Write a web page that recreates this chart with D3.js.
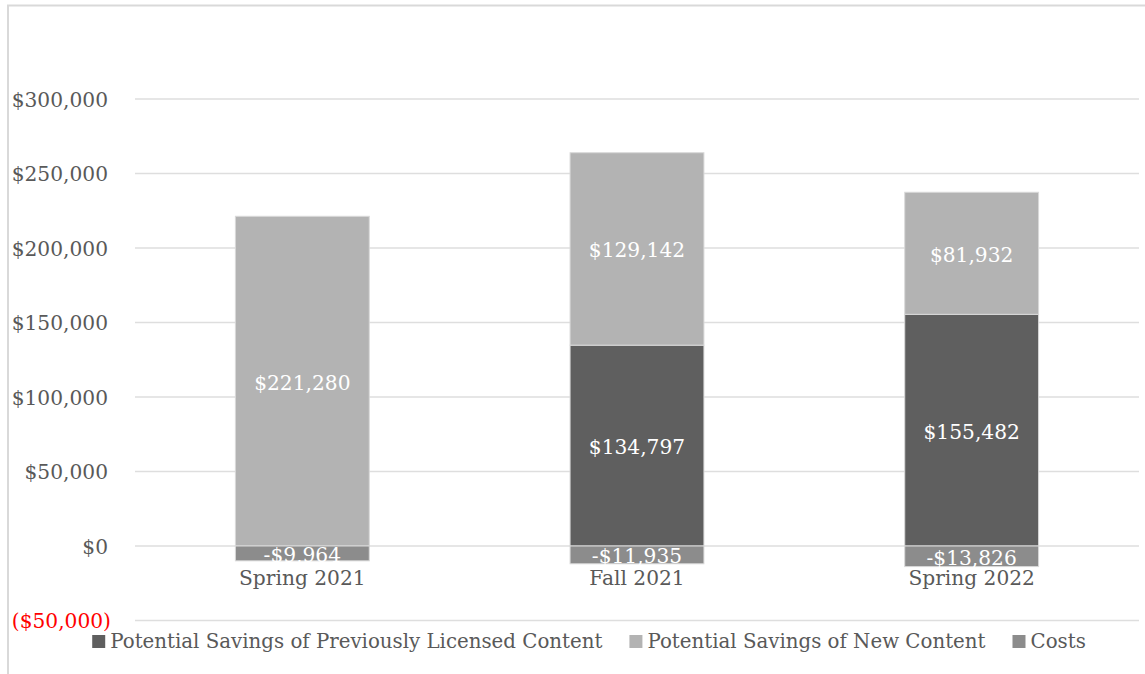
<!DOCTYPE html>
<html>
<head>
<meta charset="utf-8">
<script src="https://cdn.jsdelivr.net/npm/d3@7/dist/d3.min.js"></script>
<style>
html,body{margin:0;padding:0;background:#fff;}
svg{display:block;}
text{font-family:"DejaVu Serif", serif;}
</style>
</head>
<body>
<svg id="chart" width="1145" height="674"></svg>
<script>
const categories = ["Spring 2021", "Fall 2021", "Spring 2022"];
const seriesNames = ["Potential Savings of Previously Licensed Content", "Potential Savings of New Content", "Costs"];
const previousLicensed = [0, 134797, 155482];
const newContent = [221280, 129142, 81932];
const costs = [-9964, -11935, -13826];
const tickValues = [-50000, 0, 50000, 100000, 150000, 200000, 250000, 300000];
const tickLabels = ["($50,000)", "$0", "$50,000", "$100,000", "$150,000", "$200,000", "$250,000", "$300,000"];
const colors = ["#5f5f5f", "#b3b3b3", "#8c8c8c"];

const svg = d3.select("#chart");

// chart border
svg.append("rect").attr("x", 8).attr("y", 5.5).attr("width", 1145).attr("height", 700)
  .attr("fill", "none").attr("stroke", "#d9d9d9").attr("stroke-width", 2);

const plotLeft = 135, plotRight = 1139;
const x = d3.scaleBand().domain(categories).range([plotLeft, plotRight]).paddingInner(0.6).paddingOuter(0.3);
const y = d3.scaleLinear().domain([-50000, 300000]).range([620.5, 99]);

// gridlines
svg.append("g").selectAll("line").data(tickValues).join("line")
  .attr("x1", plotLeft).attr("x2", plotRight)
  .attr("y1", d => y(d)).attr("y2", d => y(d))
  .attr("stroke", "#dedede").attr("stroke-width", 1.5);

const fs = 20.2;
// y labels
svg.append("g").selectAll("text").data(tickValues).join("text")
  .attr("x", d => d < 0 ? 111 : 108)
  .attr("y", d => y(d) + 7.5)
  .attr("text-anchor", "end")
  .attr("font-size", fs)
  .attr("fill", d => d < 0 ? "#ff0000" : "#595959")
  .text((d, i) => tickLabels[i]);

// stacked data
const rows = categories.map((c, i) => ({cat: c, vals: [previousLicensed[i], newContent[i], costs[i]]}));
const segs = [];
rows.forEach(r => {
  let pos = 0;
  r.vals.forEach((v, s) => {
    if (v === 0) return;
    if (v > 0) { segs.push({cat: r.cat, s, v, y0: pos, y1: pos + v}); pos += v; }
    else { segs.push({cat: r.cat, s, v, y0: v, y1: 0}); }
  });
});

const bw = x.bandwidth();
svg.append("g").selectAll("rect").data(segs).join("rect")
  .attr("x", d => x(d.cat)).attr("width", bw)
  .attr("y", d => y(d.y1)).attr("height", d => y(d.y0) - y(d.y1))
  .attr("fill", d => colors[d.s])
  .attr("stroke", "#d9d9d9").attr("stroke-width", 1);

const fmt = v => (v < 0 ? "-$" : "$") + d3.format(",")(Math.abs(v));
svg.append("g").selectAll("text").data(segs).join("text")
  .attr("x", d => x(d.cat) + bw / 2)
  .attr("y", d => (y(d.y0) + y(d.y1)) / 2 + 8.5)
  .attr("text-anchor", "middle")
  .attr("font-size", fs)
  .attr("fill", "#ffffff")
  .text(d => fmt(d.v));

// category labels
svg.append("g").selectAll("text").data(categories).join("text")
  .attr("x", d => x(d) + bw / 2)
  .attr("y", 585)
  .attr("text-anchor", "middle")
  .attr("font-size", fs)
  .attr("fill", "#595959")
  .text(d => d);

// legend
const lfs = 19.8;
const lg = svg.append("g");
const items = seriesNames.map((n, i) => {
  const g = lg.append("g");
  g.append("rect").attr("x", 0).attr("y", -13).attr("width", 13).attr("height", 13).attr("fill", colors[i]);
  const t = g.append("text").attr("x", 18).attr("y", 0).attr("font-size", lfs).attr("fill", "#595959").text(n);
  return {g, w: 18 + t.node().getComputedTextLength()};
});
const gap = 27;
const total = d3.sum(items, d => d.w) + gap * (items.length - 1);
let lx = 589 - total / 2;
items.forEach(it => { it.g.attr("transform", `translate(${lx},648)`); lx += it.w + gap; });
</script>
</body>
</html>
